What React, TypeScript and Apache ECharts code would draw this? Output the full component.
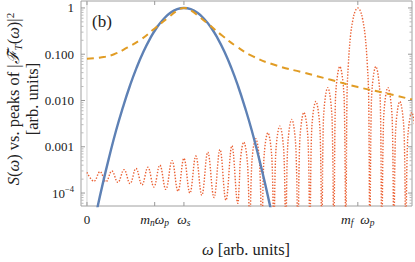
import React, { useEffect, useRef } from 'react';
import * as echarts from 'echarts';

const FONT = '"Liberation Serif", "DejaVu Serif", serif';
const TXT = '#222222';

// axis ranges (x in arb. units, y as powers of ten)
const xMin = -0.22;
const xMax = 12;
const yMinExp = -4.28;
const yMaxExp = 0.15;

// x ticks
const xTickValues = [0, 2.5, 3.58, 10];
const xTickLabels = ['{n|0}', '{i|m}{s|n}{i|ω}{s|p}', '{i|ω}{s|s}', '{i|m}{s|f}{i|  ω}{s|p}'];

// y ticks
const yMajorExps = [-4, -3, -2, -1, 0];
const yTickLabels = ['{n|10}{sup|−4}', '{n|0.001}', '{n|0.010}', '{n|0.100}', '{n|1}'];

// S(ω) – blue solid
const blueX = [0.08, 0.33, 0.58, 0.83, 1.08, 1.33, 1.58, 1.83, 2.08, 2.33, 2.58, 2.83, 3.08, 3.33, 3.58, 3.83, 4.08, 4.33, 4.58, 4.83, 5.08, 5.33, 5.58, 5.83, 6.08, 6.33, 6.58, 6.83, 7.08];
const blueY = [6.6e-6, 3.4e-5, 1.56e-4, 6.3e-4, 2.3e-3, 7.2e-3, 0.0203, 0.0507, 0.112, 0.218, 0.378, 0.578, 0.784, 0.941, 1.0, 0.941, 0.784, 0.578, 0.378, 0.218, 0.112, 0.0507, 0.0203, 7.2e-3, 2.3e-3, 6.3e-4, 1.56e-4, 3.4e-5, 6.6e-6];

// orange dashed
const orangeX = [0, 0.5, 1.0, 1.5, 2.0, 2.5, 3.0, 3.3, 3.58, 3.85, 4.1, 4.5, 5.0, 5.5, 6.13, 7.0, 8.0, 9.0, 10.0, 11.0, 12.0];
const orangeY = [0.08, 0.085, 0.1, 0.14, 0.21, 0.36, 0.62, 0.85, 1.0, 0.87, 0.68, 0.44, 0.25, 0.15, 0.09, 0.057, 0.040, 0.028, 0.0195, 0.0145, 0.0105];

// red dotted |F_T(ω)|² — far-left part: alternating small peaks and minima
const redFloorX = [0.0, 0.26, 0.48, 0.70, 0.92, 1.14, 1.37, 1.59, 1.81, 2.03, 2.25, 2.47, 2.69, 2.91, 3.14, 3.36, 3.58, 3.80, 4.02, 4.24, 4.46, 4.69, 4.91, 5.13, 5.35, 5.57];
const redFloorY = [2.8e-4, 1.8e-4, 2.9e-4, 1.75e-4, 3.0e-4, 1.7e-4, 3.2e-4, 1.6e-4, 3.4e-4, 1.5e-4, 3.6e-4, 1.35e-4, 4.0e-4, 1.2e-4, 5.0e-4, 1.1e-4, 5.6e-4, 1.0e-4, 6.3e-4, 9e-5, 7.6e-4, 8e-5, 8.7e-4, 7e-5, 1.05e-3, 6e-5];
// lobes (centre, height) and the zeros between them
const redLobeX = [5.79, 6.23, 6.68, 7.12, 7.56, 8.01, 8.45, 8.89, 9.335, 10.0, 10.665, 11.11, 11.55, 11.99];
const redLobeY = [1.26e-3, 1.5e-3, 2.0e-3, 2.8e-3, 3.9e-3, 5.5e-3, 9.5e-3, 0.019, 0.054, 1.0, 0.054, 0.019, 0.0095, 0.0055];
const redZeroX = [6.01, 6.46, 6.90, 7.34, 7.79, 8.23, 8.67, 9.114, 9.557, 10.443, 10.886, 11.33, 11.77];
const redZeroY = 1e-5;
// lobe profiles (offset from centre, fraction of lobe height)
const sideLobeDx = [-0.17, -0.11, 0, 0.11, 0.17];
const sideLobeRel = [0.12, 0.5, 1, 0.5, 0.12];
const mainLobeDx = [-0.40, -0.35, -0.27, -0.18, -0.09, 0, 0.09, 0.18, 0.27, 0.35, 0.40];
const mainLobeRel = [0.012, 0.06, 0.25, 0.56, 0.87, 1, 0.87, 0.56, 0.25, 0.06, 0.012];

const zip = (xs: number[], ys: number[]) => xs.map((x, i) => [x, ys[i]]);

function buildRed(): number[][] {
  const pts = zip(redFloorX, redFloorY);
  redLobeX.forEach((cx, i) => {
    const isMain = redLobeY[i] >= 1;
    const dx = isMain ? mainLobeDx : sideLobeDx;
    const rel = isMain ? mainLobeRel : sideLobeRel;
    dx.forEach((d, j) => pts.push([cx + d, redLobeY[i] * rel[j]]));
    if (i < redZeroX.length) pts.push([redZeroX[i], redZeroY]);
  });
  return pts.filter((p) => p[0] <= xMax + 0.3);
}

const minorTicks: number[] = [];
for (let k = -5; k <= 0; k++) {
  for (let m = 2; m <= 9; m++) {
    const v = m * Math.pow(10, k);
    const e = Math.log10(v);
    if (e > yMinExp && e < yMaxExp) minorTicks.push(v);
  }
}

const rich = {
  n: { fontFamily: FONT, fontSize: 13, lineHeight: 17, color: TXT },
  i: { fontFamily: FONT, fontSize: 13.5, fontStyle: 'italic', lineHeight: 17, color: TXT },
  s: { fontFamily: FONT, fontSize: 9.5, fontStyle: 'italic', lineHeight: 10, verticalAlign: 'bottom', color: TXT },
  sup: { fontFamily: FONT, fontSize: 8.5, lineHeight: 9, verticalAlign: 'top', color: TXT },
};

const titleRich = {
  n: { fontFamily: FONT, fontSize: 16.5, lineHeight: 19, color: TXT },
  i: { fontFamily: FONT, fontSize: 16.5, fontStyle: 'italic', lineHeight: 19, color: TXT },
  s: { fontFamily: FONT, fontSize: 11, fontStyle: 'italic', lineHeight: 11, verticalAlign: 'bottom', color: TXT },
  sup: { fontFamily: FONT, fontSize: 11, lineHeight: 11, verticalAlign: 'top', color: TXT },
};

export default function App() {
  const ref = useRef<HTMLDivElement>(null);
  useEffect(() => {
    if (!ref.current) return;
    const chart = echarts.init(ref.current, undefined, { renderer: 'svg' });
    const yLo = Math.pow(10, yMinExp);
    const option: any = {
      animation: false,
      backgroundColor: '#ffffff',
      grid: { left: 81, top: 1, right: 3, bottom: 56, show: true, borderColor: '#a0a0a0', borderWidth: 1, backgroundColor: 'transparent' },
      xAxis: {
        type: 'value', min: xMin, max: xMax,
        axisLine: { show: false }, axisTick: { show: false }, axisLabel: { show: false }, splitLine: { show: false },
      },
      yAxis: {
        type: 'log', logBase: 10, min: Math.pow(10, yMinExp), max: Math.pow(10, yMaxExp),
        axisLine: { show: false }, axisTick: { show: false }, splitLine: { show: false },
        axisLabel: {
          margin: 7, showMinLabel: false, showMaxLabel: false, rich,
          fontFamily: FONT, fontSize: 13, color: TXT,
          formatter: (v: number) => {
            const e = Math.log10(v);
            const r = Math.round(e);
            if (Math.abs(e - r) > 1e-6) return '';
            const idx = yMajorExps.indexOf(r);
            return idx >= 0 ? yTickLabels[idx] : '';
          },
        },
      },
      graphic: [
        {
          type: 'text', x: 23, y: 99, rotation: Math.PI / 2,
          style: {
            text: '{i|S}{n|(}{i|ω}{n|) vs. peaks of |}{i|ℱ̃}{s|T}{n|(}{i|ω}{n|)|}{sup|2}\n{n|[arb. units]}',
            rich: titleRich, align: 'center', verticalAlign: 'middle', fill: TXT,
            fontFamily: FONT, fontSize: 16.5,
          },
        },
        {
          type: 'text', x: 246, y: 249,
          style: {
            text: '{i|ω}{n| [arb. units]}', rich: titleRich, align: 'center', verticalAlign: 'middle', fill: TXT,
            fontFamily: FONT, fontSize: 16.5,
          },
        },
        {
          type: 'text', x: 92, y: 21,
          style: { text: '(b)', fontFamily: FONT, fontSize: 17, fill: TXT, align: 'left', verticalAlign: 'middle' },
        },
      ],
      series: [
        {
          type: 'custom', silent: true, z: 1,
          data: [[0, yLo]],
          renderItem: (params: any, api: any) => {
            const cs = params.coordSys;
            const x = api.coord([api.value(0), yLo])[0];
            return { type: 'line', shape: { x1: x, y1: cs.y, x2: x, y2: cs.y + cs.height }, style: { stroke: '#d2d2d2', lineWidth: 1 } };
          },
        },
        {
          type: 'custom', silent: true, z: 5,
          data: xTickValues.map((v) => [v, yLo]),
          renderItem: (params: any, api: any) => {
            const cs = params.coordSys;
            const x = api.coord([api.value(0), yLo])[0];
            const b = cs.y + cs.height;
            return {
              type: 'group',
              children: [
                { type: 'line', shape: { x1: x, y1: b, x2: x, y2: b - 4 }, style: { stroke: '#999', lineWidth: 1 } },
                { type: 'line', shape: { x1: x, y1: cs.y, x2: x, y2: cs.y + 4 }, style: { stroke: '#999', lineWidth: 1 } },
                {
                  type: 'text', x, y: b + 5,
                  style: { text: xTickLabels[params.dataIndex], rich, align: 'center', verticalAlign: 'top', fontFamily: FONT, fontSize: 13, fill: TXT },
                },
              ],
            };
          },
        },
        {
          type: 'custom', silent: true, z: 5,
          data: yMajorExps.map((e) => [xMin, Math.pow(10, e)]),
          renderItem: (params: any, api: any) => {
            const cs = params.coordSys;
            const y = api.coord([xMin, api.value(1)])[1];
            const r = cs.x + cs.width;
            return {
              type: 'group',
              children: [
                { type: 'line', shape: { x1: cs.x, y1: y, x2: cs.x + 4, y2: y }, style: { stroke: '#999', lineWidth: 1 } },
                { type: 'line', shape: { x1: r, y1: y, x2: r - 4, y2: y }, style: { stroke: '#999', lineWidth: 1 } },
              ],
            };
          },
        },
        {
          type: 'custom', silent: true, z: 5,
          data: minorTicks.map((v) => [xMin, v]),
          renderItem: (params: any, api: any) => {
            const cs = params.coordSys;
            const y = api.coord([xMin, api.value(1)])[1];
            const r = cs.x + cs.width;
            return {
              type: 'group',
              children: [
                { type: 'line', shape: { x1: cs.x, y1: y, x2: cs.x + 2.5, y2: y }, style: { stroke: '#bbb', lineWidth: 1 } },
                { type: 'line', shape: { x1: r, y1: y, x2: r - 2.5, y2: y }, style: { stroke: '#bbb', lineWidth: 1 } },
              ],
            };
          },
        },
        {
          type: 'line', z: 2, data: buildRed(), smooth: 0.4, symbol: 'none', clip: true,
          lineStyle: { color: '#EB6235', width: 1.4, type: [1.4, 1.6] },
        },
        {
          type: 'line', z: 3, data: zip(blueX, blueY), smooth: true, symbol: 'none', clip: true,
          lineStyle: { color: '#5E81B5', width: 2.4 },
        },
        {
          type: 'line', z: 4, data: zip(orangeX, orangeY), smooth: true, symbol: 'none', clip: true,
          lineStyle: { color: '#E19C24', width: 2, type: [7, 5] },
        },
      ],
    };
    chart.setOption(option);
    return () => chart.dispose();
  }, []);
  return <div ref={ref} style={{ position: 'fixed', left: 0, top: 0, width: 415, height: 262 }} />;
}
